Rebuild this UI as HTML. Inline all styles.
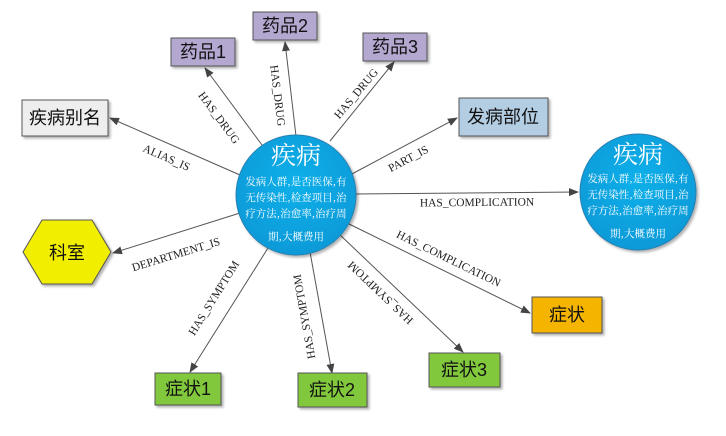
<!DOCTYPE html>
<html><head><meta charset="utf-8"><style>
body{margin:0;background:#fff}
svg{display:block}
.l{font-family:"Liberation Serif",serif;font-size:11.5px;fill:#222}
.b{font-family:"Liberation Sans","Noto Sans CJK SC",sans-serif;font-size:18px;fill:#111}
.c{font-family:"Noto Serif CJK SC","Noto Sans CJK SC",serif;fill:#fff}
</style></head><body>
<svg width="726" height="436" viewBox="0 0 726 436" xmlns="http://www.w3.org/2000/svg">
<defs>
<marker id="a" markerWidth="10" markerHeight="8" refX="9" refY="4" orient="auto" markerUnits="userSpaceOnUse"><path d="M0,0 L10,4 L0,8 Z" fill="#444"/></marker>
<radialGradient id="g" cx="50%" cy="40%" r="60%"><stop offset="0" stop-color="#10b0ea"/><stop offset="1" stop-color="#0a9ad8"/></radialGradient>
<filter id="s" x="-10%" y="-10%" width="130%" height="130%"><feDropShadow dx="2" dy="2" stdDeviation="1.2" flood-color="#000" flood-opacity="0.3"/></filter>
</defs>
<g stroke="#555" stroke-width="1" fill="none" marker-end="url(#a)">
<line x1="262" y1="145" x2="205" y2="68"/>
<line x1="296" y1="136" x2="285" y2="42"/>
<line x1="330" y1="141" x2="394" y2="62"/>
<line x1="240" y1="175" x2="110" y2="118"/>
<line x1="350" y1="175" x2="457" y2="118"/>
<line x1="355" y1="194" x2="578" y2="192"/>
<line x1="345" y1="222" x2="530" y2="313"/>
<line x1="338" y1="233" x2="463" y2="352"/>
<line x1="310" y1="252" x2="332" y2="373"/>
<line x1="268" y1="248" x2="190" y2="372"/>
<line x1="240" y1="213" x2="113" y2="253"/>
</g>
<g class="l" text-anchor="middle">
<text transform="translate(216,120) rotate(53.5)">HAS_DRUG</text>
<text transform="translate(274,96) rotate(83)">HAS_DRUG</text>
<text transform="translate(359,96) rotate(-50)">HAS_DRUG</text>
<text transform="translate(165,161) rotate(23.7)">ALIAS_IS</text>
<text transform="translate(410,162) rotate(-28)">PART_IS</text>
<text transform="translate(477,206) rotate(-0.5)">HAS_COMPLICATION</text>
<text transform="translate(447,262) rotate(26)">HAS_COMPLICATION</text>
<text transform="translate(383,290) rotate(223.6)">HAS_SYMPTOM</text>
<text transform="translate(308,316) rotate(260)">HAS_SYMPTOM</text>
<text transform="translate(217,300) rotate(-58)">HAS_SYMPTOM</text>
<text transform="translate(177,258) rotate(-17)">DEPARTMENT_IS</text>
</g>
<g filter="url(#s)" stroke="#555" stroke-width="1">
<rect x="171" y="38" width="64" height="28" fill="#b4a7d0"/>
<rect x="253" y="12" width="64" height="28" fill="#b4a7d0"/>
<rect x="363" y="33" width="64" height="28" fill="#b4a7d0"/>
<rect x="22" y="100" width="86" height="36" fill="#eeeeee"/>
<rect x="459" y="98" width="89" height="38" fill="#b3cde3"/>
<polygon points="23,252 42,220 92,220 111,252 92,284 42,284" fill="#f2ee00"/>
<rect x="532" y="297" width="70" height="36" fill="#f4b400"/>
<rect x="155" y="373" width="66" height="32" fill="#82c83c"/>
<rect x="298" y="373" width="69" height="34" fill="#82c83c"/>
<rect x="429" y="353" width="71" height="34" fill="#82c83c"/>
<circle cx="296" cy="195" r="60" fill="url(#g)" stroke="#2a7fb0"/>
<circle cx="638" cy="192" r="58" fill="url(#g)" stroke="#2a7fb0"/>
</g>
<g class="b" text-anchor="middle">
<text x="203" y="58">药品1</text>
<text x="285" y="32">药品2</text>
<text x="395" y="53">药品3</text>
<text x="65" y="124">疾病别名</text>
<text x="503" y="123">发病部位</text>
<text x="67" y="259">科室</text>
<text x="567" y="321">症状</text>
<text x="188" y="395">症状1</text>
<text x="332" y="396">症状2</text>
<text x="464" y="376">症状3</text>
</g>
<g class="c" text-anchor="middle">
<text x="296" y="164" font-size="25">疾病</text>
<text x="296" y="185" font-size="10.5">发病人群,是否医保,有</text>
<text x="296" y="201" font-size="10.5">无传染性,检查项目,治</text>
<text x="296" y="217" font-size="10.5">疗方法,治愈率,治疗周</text>
<text x="296" y="240" font-size="10.5">期,大概费用</text>
<text x="638" y="163" font-size="25">疾病</text>
<text x="638" y="182" font-size="10.5">发病人群,是否医保,有</text>
<text x="638" y="198" font-size="10.5">无传染性,检查项目,治</text>
<text x="638" y="214" font-size="10.5">疗方法,治愈率,治疗周</text>
<text x="638" y="237" font-size="10.5">期,大概费用</text>
</g>
</svg>
</body></html>
